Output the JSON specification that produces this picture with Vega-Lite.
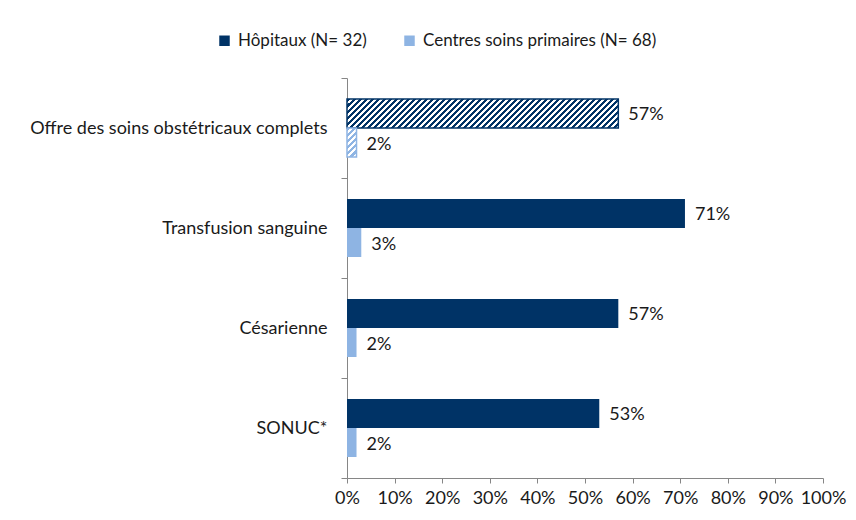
{
  "$schema": "https://vega.github.io/schema/vega-lite/v6.json",
  "width": 476,
  "height": 400,
  "autosize": {"type": "none"},
  "padding": {"left": 347, "top": 78, "right": 33, "bottom": 42},
  "background": "white",
  "config": {
    "view": {"stroke": null},
    "font": "Lato",
    "text": {"font": "Lato"}
  },
  "data": {
    "values": [
      {"cat": "Offre des soins obstétricaux complets", "serie": "Hôpitaux (N= 32)", "v": 0.57},
      {"cat": "Offre des soins obstétricaux complets", "serie": "Centres soins primaires (N= 68)", "v": 0.02},
      {"cat": "Transfusion sanguine", "serie": "Hôpitaux (N= 32)", "v": 0.71},
      {"cat": "Transfusion sanguine", "serie": "Centres soins primaires (N= 68)", "v": 0.03},
      {"cat": "Césarienne", "serie": "Hôpitaux (N= 32)", "v": 0.57},
      {"cat": "Césarienne", "serie": "Centres soins primaires (N= 68)", "v": 0.02},
      {"cat": "SONUC*", "serie": "Hôpitaux (N= 32)", "v": 0.53},
      {"cat": "SONUC*", "serie": "Centres soins primaires (N= 68)", "v": 0.02}
    ]
  },
  "encoding": {
    "y": {
      "field": "cat",
      "type": "nominal",
      "title": null,
      "scale": {
        "domain": ["Offre des soins obstétricaux complets", "Transfusion sanguine", "Césarienne", "SONUC*"],
        "paddingInner": 0,
        "paddingOuter": 0
      },
      "axis": {
        "tickBand": "extent",
        "tickSize": 6,
        "tickColor": "#868686",
        "domainColor": "#868686",
        "labelFontSize": 18,
        "labelPadding": 14,
        "labelColor": "#1a1a1a",
        "labelLimit": 400,
        "labelFont": "Lato"
      }
    },
    "yOffset": {
      "field": "serie",
      "type": "nominal",
      "scale": {
        "domain": ["Hôpitaux (N= 32)", "Centres soins primaires (N= 68)"],
        "paddingInner": 0,
        "paddingOuter": 0.724
      }
    },
    "x": {
      "field": "v",
      "type": "quantitative",
      "title": null,
      "scale": {"domain": [0, 1], "nice": false},
      "axis": {
        "values": [0, 0.1, 0.2, 0.3, 0.4, 0.5, 0.6, 0.7, 0.8, 0.9, 1],
        "format": ".0%",
        "grid": false,
        "tickSize": 5,
        "tickColor": "#868686",
        "domainColor": "#868686",
        "labelFontSize": 18,
        "labelPadding": 6,
        "labelColor": "#1a1a1a",
        "labelFlush": false,
        "labelOverlap": false,
        "labelFont": "Lato"
      }
    }
  },
  "layer": [
    {
      "transform": [{"filter": "datum.cat !== 'Offre des soins obstétricaux complets'"}],
      "mark": {"type": "bar"},
      "encoding": {
        "color": {
          "field": "serie",
          "type": "nominal",
          "scale": {
            "domain": ["Hôpitaux (N= 32)", "Centres soins primaires (N= 68)"],
            "range": ["#003366", "#8EB4E3"]
          },
          "legend": {
            "orient": "none",
            "legendX": -131,
            "legendY": -46,
            "direction": "horizontal",
            "title": null,
            "symbolType": "square",
            "symbolSize": 110,
            "symbolStrokeWidth": 0,
            "labelFontSize": 17,
            "labelColor": "#1a1a1a",
            "labelFont": "Lato",
            "labelOffset": 5,
            "columnPadding": 34,
            "labelLimit": 400
          }
        }
      }
    },
    {
      "transform": [{"filter": "datum.cat === 'Offre des soins obstétricaux complets' && datum.serie === 'Hôpitaux (N= 32)'"}],
      "mark": {
        "type": "bar",
        "stroke": "#003366",
        "strokeWidth": 1.5,
        "fill": {
          "gradient": "linear",
          "x1": 0, "y1": 0, "x2": 1.094, "y2": 0.117,
          "stops": [
            {"offset":0,"color":"#036"},{"offset":0.011,"color":"#036"},{"offset":0.011,"color":"#fff"},{"offset":0.02,"color":"#fff"},
            {"offset":0.02,"color":"#036"},{"offset":0.031,"color":"#036"},{"offset":0.031,"color":"#fff"},{"offset":0.04,"color":"#fff"},
            {"offset":0.04,"color":"#036"},{"offset":0.051,"color":"#036"},{"offset":0.051,"color":"#fff"},{"offset":0.06,"color":"#fff"},
            {"offset":0.06,"color":"#036"},{"offset":0.071,"color":"#036"},{"offset":0.071,"color":"#fff"},{"offset":0.08,"color":"#fff"},
            {"offset":0.08,"color":"#036"},{"offset":0.091,"color":"#036"},{"offset":0.091,"color":"#fff"},{"offset":0.1,"color":"#fff"},
            {"offset":0.1,"color":"#036"},{"offset":0.111,"color":"#036"},{"offset":0.111,"color":"#fff"},{"offset":0.12,"color":"#fff"},
            {"offset":0.12,"color":"#036"},{"offset":0.131,"color":"#036"},{"offset":0.131,"color":"#fff"},{"offset":0.14,"color":"#fff"},
            {"offset":0.14,"color":"#036"},{"offset":0.151,"color":"#036"},{"offset":0.151,"color":"#fff"},{"offset":0.16,"color":"#fff"},
            {"offset":0.16,"color":"#036"},{"offset":0.171,"color":"#036"},{"offset":0.171,"color":"#fff"},{"offset":0.18,"color":"#fff"},
            {"offset":0.18,"color":"#036"},{"offset":0.191,"color":"#036"},{"offset":0.191,"color":"#fff"},{"offset":0.2,"color":"#fff"},
            {"offset":0.2,"color":"#036"},{"offset":0.211,"color":"#036"},{"offset":0.211,"color":"#fff"},{"offset":0.22,"color":"#fff"},
            {"offset":0.22,"color":"#036"},{"offset":0.231,"color":"#036"},{"offset":0.231,"color":"#fff"},{"offset":0.24,"color":"#fff"},
            {"offset":0.24,"color":"#036"},{"offset":0.251,"color":"#036"},{"offset":0.251,"color":"#fff"},{"offset":0.26,"color":"#fff"},
            {"offset":0.26,"color":"#036"},{"offset":0.271,"color":"#036"},{"offset":0.271,"color":"#fff"},{"offset":0.28,"color":"#fff"},
            {"offset":0.28,"color":"#036"},{"offset":0.291,"color":"#036"},{"offset":0.291,"color":"#fff"},{"offset":0.3,"color":"#fff"},
            {"offset":0.3,"color":"#036"},{"offset":0.311,"color":"#036"},{"offset":0.311,"color":"#fff"},{"offset":0.32,"color":"#fff"},
            {"offset":0.32,"color":"#036"},{"offset":0.331,"color":"#036"},{"offset":0.331,"color":"#fff"},{"offset":0.34,"color":"#fff"},
            {"offset":0.34,"color":"#036"},{"offset":0.351,"color":"#036"},{"offset":0.351,"color":"#fff"},{"offset":0.36,"color":"#fff"},
            {"offset":0.36,"color":"#036"},{"offset":0.371,"color":"#036"},{"offset":0.371,"color":"#fff"},{"offset":0.38,"color":"#fff"},
            {"offset":0.38,"color":"#036"},{"offset":0.391,"color":"#036"},{"offset":0.391,"color":"#fff"},{"offset":0.4,"color":"#fff"},
            {"offset":0.4,"color":"#036"},{"offset":0.411,"color":"#036"},{"offset":0.411,"color":"#fff"},{"offset":0.42,"color":"#fff"},
            {"offset":0.42,"color":"#036"},{"offset":0.431,"color":"#036"},{"offset":0.431,"color":"#fff"},{"offset":0.44,"color":"#fff"},
            {"offset":0.44,"color":"#036"},{"offset":0.451,"color":"#036"},{"offset":0.451,"color":"#fff"},{"offset":0.46,"color":"#fff"},
            {"offset":0.46,"color":"#036"},{"offset":0.471,"color":"#036"},{"offset":0.471,"color":"#fff"},{"offset":0.48,"color":"#fff"},
            {"offset":0.48,"color":"#036"},{"offset":0.491,"color":"#036"},{"offset":0.491,"color":"#fff"},{"offset":0.5,"color":"#fff"},
            {"offset":0.5,"color":"#036"},{"offset":0.511,"color":"#036"},{"offset":0.511,"color":"#fff"},{"offset":0.52,"color":"#fff"},
            {"offset":0.52,"color":"#036"},{"offset":0.531,"color":"#036"},{"offset":0.531,"color":"#fff"},{"offset":0.54,"color":"#fff"},
            {"offset":0.54,"color":"#036"},{"offset":0.551,"color":"#036"},{"offset":0.551,"color":"#fff"},{"offset":0.56,"color":"#fff"},
            {"offset":0.56,"color":"#036"},{"offset":0.571,"color":"#036"},{"offset":0.571,"color":"#fff"},{"offset":0.58,"color":"#fff"},
            {"offset":0.58,"color":"#036"},{"offset":0.591,"color":"#036"},{"offset":0.591,"color":"#fff"},{"offset":0.6,"color":"#fff"},
            {"offset":0.6,"color":"#036"},{"offset":0.611,"color":"#036"},{"offset":0.611,"color":"#fff"},{"offset":0.62,"color":"#fff"},
            {"offset":0.62,"color":"#036"},{"offset":0.631,"color":"#036"},{"offset":0.631,"color":"#fff"},{"offset":0.64,"color":"#fff"},
            {"offset":0.64,"color":"#036"},{"offset":0.651,"color":"#036"},{"offset":0.651,"color":"#fff"},{"offset":0.66,"color":"#fff"},
            {"offset":0.66,"color":"#036"},{"offset":0.671,"color":"#036"},{"offset":0.671,"color":"#fff"},{"offset":0.68,"color":"#fff"},
            {"offset":0.68,"color":"#036"},{"offset":0.691,"color":"#036"},{"offset":0.691,"color":"#fff"},{"offset":0.7,"color":"#fff"},
            {"offset":0.7,"color":"#036"},{"offset":0.711,"color":"#036"},{"offset":0.711,"color":"#fff"},{"offset":0.72,"color":"#fff"},
            {"offset":0.72,"color":"#036"},{"offset":0.731,"color":"#036"},{"offset":0.731,"color":"#fff"},{"offset":0.74,"color":"#fff"},
            {"offset":0.74,"color":"#036"},{"offset":0.751,"color":"#036"},{"offset":0.751,"color":"#fff"},{"offset":0.76,"color":"#fff"},
            {"offset":0.76,"color":"#036"},{"offset":0.771,"color":"#036"},{"offset":0.771,"color":"#fff"},{"offset":0.78,"color":"#fff"},
            {"offset":0.78,"color":"#036"},{"offset":0.791,"color":"#036"},{"offset":0.791,"color":"#fff"},{"offset":0.8,"color":"#fff"},
            {"offset":0.8,"color":"#036"},{"offset":0.811,"color":"#036"},{"offset":0.811,"color":"#fff"},{"offset":0.82,"color":"#fff"},
            {"offset":0.82,"color":"#036"},{"offset":0.831,"color":"#036"},{"offset":0.831,"color":"#fff"},{"offset":0.84,"color":"#fff"},
            {"offset":0.84,"color":"#036"},{"offset":0.851,"color":"#036"},{"offset":0.851,"color":"#fff"},{"offset":0.86,"color":"#fff"},
            {"offset":0.86,"color":"#036"},{"offset":0.871,"color":"#036"},{"offset":0.871,"color":"#fff"},{"offset":0.88,"color":"#fff"},
            {"offset":0.88,"color":"#036"},{"offset":0.891,"color":"#036"},{"offset":0.891,"color":"#fff"},{"offset":0.9,"color":"#fff"},
            {"offset":0.9,"color":"#036"},{"offset":0.911,"color":"#036"},{"offset":0.911,"color":"#fff"},{"offset":0.92,"color":"#fff"},
            {"offset":0.92,"color":"#036"},{"offset":0.931,"color":"#036"},{"offset":0.931,"color":"#fff"},{"offset":0.94,"color":"#fff"},
            {"offset":0.94,"color":"#036"},{"offset":0.951,"color":"#036"},{"offset":0.951,"color":"#fff"},{"offset":0.96,"color":"#fff"},
            {"offset":0.96,"color":"#036"},{"offset":0.971,"color":"#036"},{"offset":0.971,"color":"#fff"},{"offset":0.98,"color":"#fff"},
            {"offset":0.98,"color":"#036"},{"offset":0.991,"color":"#036"},{"offset":0.991,"color":"#fff"},{"offset":1,"color":"#fff"}
          ]
        }
      }
    },
    {
      "transform": [{"filter": "datum.cat === 'Offre des soins obstétricaux complets' && datum.serie === 'Centres soins primaires (N= 68)'"}],
      "mark": {
        "type": "bar",
        "stroke": "#8EB4E3",
        "strokeWidth": 1.5,
        "fill": {
          "gradient": "linear",
          "x1": 0, "y1": 0, "x2": 0.394, "y2": 1.2,
          "stops": [
            {"offset":0,"color":"#8EB4E3"},{"offset":0.085,"color":"#8EB4E3"},{"offset":0.085,"color":"#fff"},{"offset":0.16,"color":"#fff"},
            {"offset":0.16,"color":"#8EB4E3"},{"offset":0.245,"color":"#8EB4E3"},{"offset":0.245,"color":"#fff"},{"offset":0.32,"color":"#fff"},
            {"offset":0.32,"color":"#8EB4E3"},{"offset":0.405,"color":"#8EB4E3"},{"offset":0.405,"color":"#fff"},{"offset":0.48,"color":"#fff"},
            {"offset":0.48,"color":"#8EB4E3"},{"offset":0.565,"color":"#8EB4E3"},{"offset":0.565,"color":"#fff"},{"offset":0.64,"color":"#fff"},
            {"offset":0.64,"color":"#8EB4E3"},{"offset":0.725,"color":"#8EB4E3"},{"offset":0.725,"color":"#fff"},{"offset":0.8,"color":"#fff"},
            {"offset":0.8,"color":"#8EB4E3"},{"offset":0.885,"color":"#8EB4E3"},{"offset":0.885,"color":"#fff"},{"offset":0.96,"color":"#fff"},
            {"offset":0.96,"color":"#8EB4E3"},{"offset":1,"color":"#8EB4E3"}
          ]
        }
      }
    },
    {
      "mark": {"type": "text", "align": "left", "baseline": "middle", "dx": 10, "dy": 2, "fontSize": 18, "color": "#1a1a1a", "font": "Lato"},
      "encoding": {
        "text": {"field": "v", "type": "quantitative", "format": ".0%"}
      }
    }
  ]
}
